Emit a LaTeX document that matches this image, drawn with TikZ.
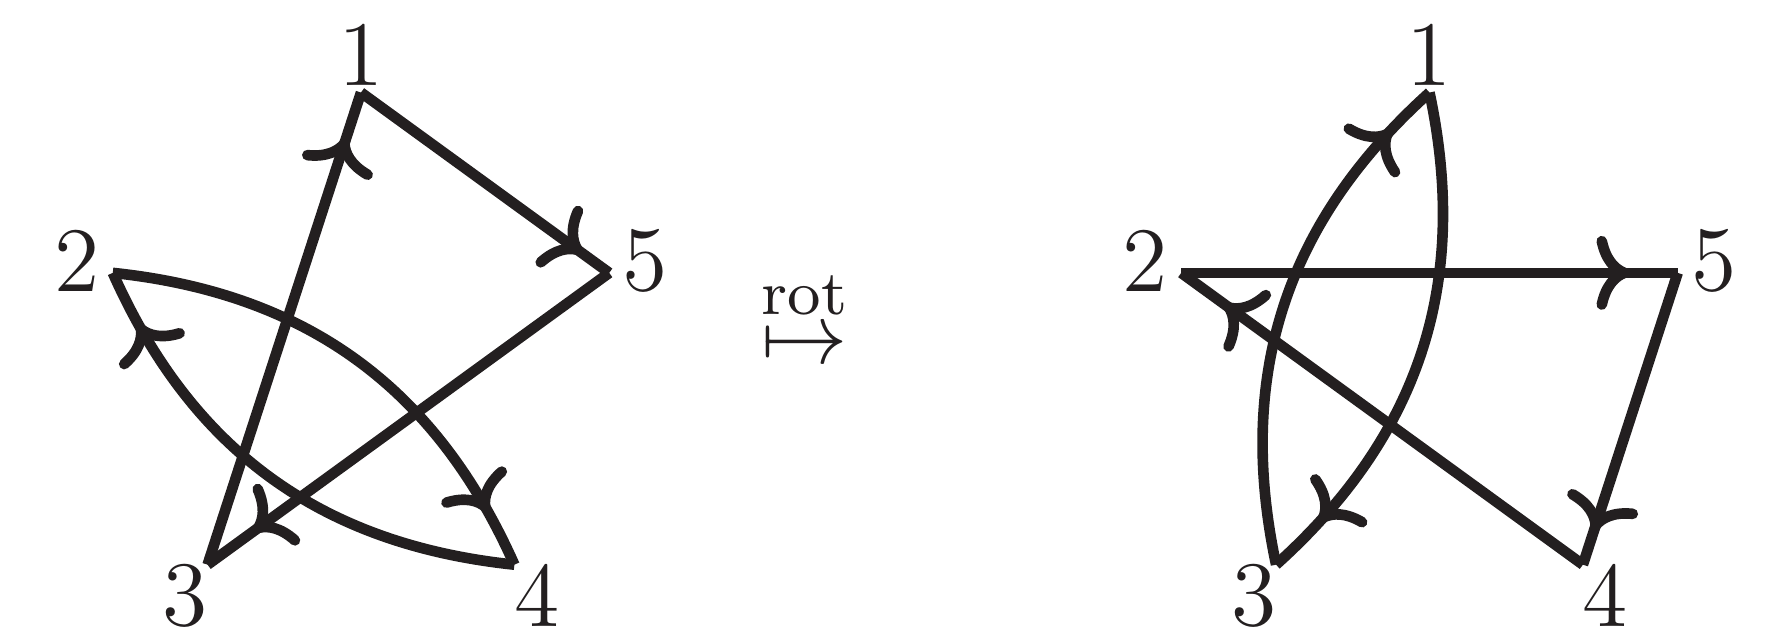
\documentclass[tikz,border=0pt]{standalone}
\usepackage{amsmath}
\usetikzlibrary{arrows.meta,decorations.markings,calc}
\definecolor{ink}{RGB}{35,31,32}
\tikzset{
  edge/.style={line width=1.35pt, draw=ink},
  arr/.style={postaction={decorate}, decoration={markings,
     mark=at position #1 with {\arrow[ink]{Computer Modern Rightarrow[length=4.2pt,width=9.4pt,line width=1.35pt]}}}},
  arr/.default=0.89,
  vlabel/.style={inner sep=0pt, text=ink, font=\fontsize{11.7}{14}\selectfont},
  vert/.style={coordinate},
}
\begin{document}
\begin{tikzpicture}[x=0.127pt,y=0.127pt]
\useasboundingbox (0,0) rectangle (1782,637);
\coordinate (L) at (361,283.5);
\coordinate (Rc) at (1429.5,283.5);
% left pentagon
\node[vert] (a1) at ([shift={(L)}]90:261) {};
\node[vert] (a2) at ([shift={(L)}]162:261) {};
\node[vert] (a3) at ([shift={(L)}]234:261) {};
\node[vert] (a4) at ([shift={(L)}]306:261) {};
\node[vert] (a5) at ([shift={(L)}]18:261) {};
\node[vlabel] (la1) at ([shift={(L)}]90:299) {1};
\node[vlabel] (la2) at ([shift={(L)}]162:299) {2};
\node[vlabel] (la3) at ([shift={(L)}]234:299) {3};
\node[vlabel] (la4) at ([shift={(L)}]306:299) {4};
\node[vlabel] (la5) at ([shift={(L)}]18:299) {5};
% right pentagon
\node[vert] (b1) at ([shift={(Rc)}]90:261) {};
\node[vert] (b2) at ([shift={(Rc)}]162:261) {};
\node[vert] (b3) at ([shift={(Rc)}]234:261) {};
\node[vert] (b4) at ([shift={(Rc)}]306:261) {};
\node[vert] (b5) at ([shift={(Rc)}]18:261) {};
\node[vlabel] (lb1) at ([shift={(Rc)}]90:299) {1};
\node[vlabel] (lb2) at ([shift={(Rc)}]162:299) {2};
\node[vlabel] (lb3) at ([shift={(Rc)}]234:299) {3};
\node[vlabel] (lb4) at ([shift={(Rc)}]306:299) {4};
\node[vlabel] (lb5) at ([shift={(Rc)}]18:299) {5};
% left edges
\draw[edge,arr=0.89] (a1) -- (a5);
\draw[edge,arr=0.885] (a5) -- (a3);
\draw[edge,arr=0.903] (a3) -- (a1);
\draw[edge,arr=0.886] (a2) to[bend left=30] (a4);
\draw[edge,arr=0.89] (a4) to[bend left=30] (a2);
% right edges
\draw[edge,arr=0.903] (b2) -- (b5);
\draw[edge,arr=0.883] (b5) -- (b4);
\draw[edge,arr=0.892] (b4) -- (b2);
\draw[edge,arr=0.897] (b3) to[bend left=30] (b1);
\draw[edge,arr=0.882] (b1) to[bend left=30] (b3);
% rot map
\node[inner sep=0pt, anchor=base, text=ink, font=\fontsize{11}{13}\selectfont] (map) at (804.5,273.6) {$\stackrel{\mathrm{rot}}{\mapsto}$};
\end{tikzpicture}
\end{document}
